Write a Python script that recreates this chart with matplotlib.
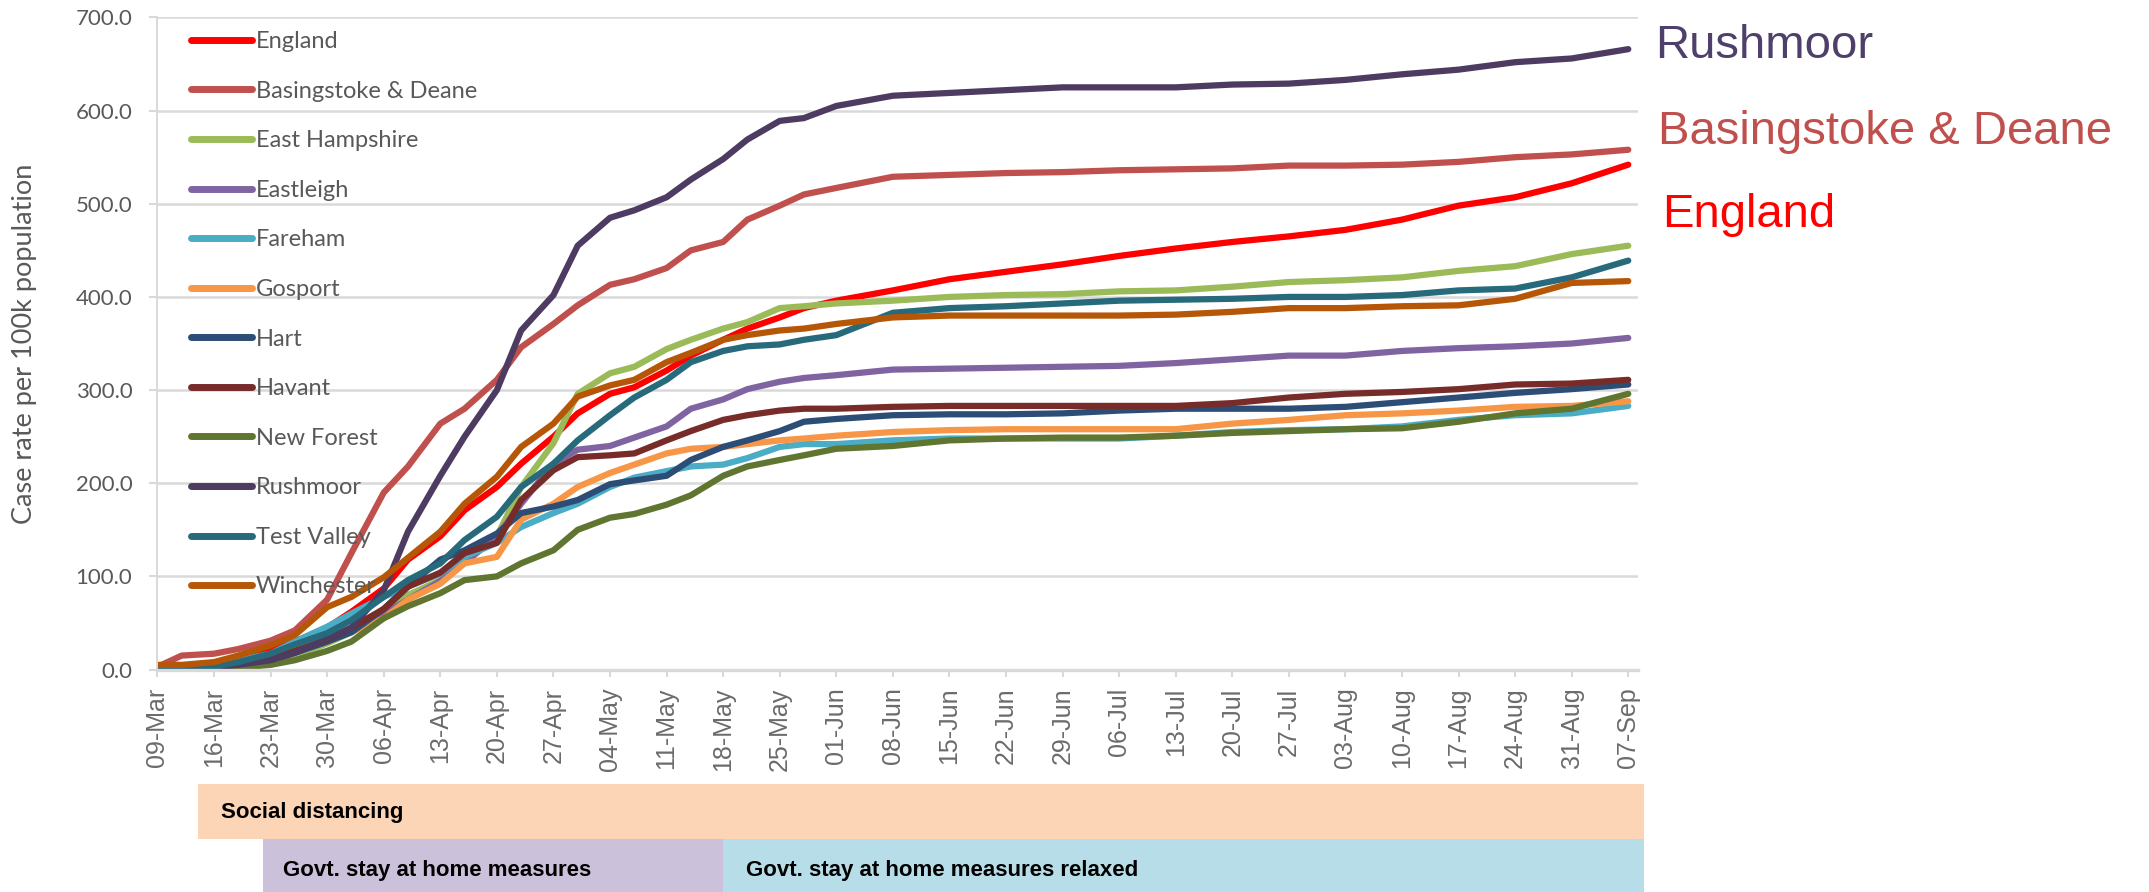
import numpy as np
import matplotlib
matplotlib.use("Agg")
import matplotlib.pyplot as plt
import matplotlib.transforms as mtransforms
from matplotlib.patches import Rectangle

# ---------------- data ----------------
dates = np.array([
    "2020-03-09", "2020-03-12", "2020-03-16", "2020-03-19", "2020-03-23", "2020-03-26",
    "2020-03-30", "2020-04-02", "2020-04-06", "2020-04-09", "2020-04-13", "2020-04-16",
    "2020-04-20", "2020-04-23", "2020-04-27", "2020-04-30", "2020-05-04", "2020-05-07",
    "2020-05-11", "2020-05-14", "2020-05-18", "2020-05-21", "2020-05-25", "2020-05-28",
    "2020-06-01", "2020-06-08", "2020-06-15", "2020-06-22", "2020-06-29", "2020-07-06",
    "2020-07-13", "2020-07-20", "2020-07-27", "2020-08-03", "2020-08-10", "2020-08-17",
    "2020-08-24", "2020-08-31", "2020-09-07",
], dtype="datetime64[D]")

england = [2, 4, 6, 12, 20, 30, 45, 62, 87, 118, 143, 171, 196, 221, 250, 275, 296, 303,
           321, 337, 354, 366, 378, 388, 396, 407, 419, 427, 435, 444, 452, 459, 465, 472,
           483, 498, 507, 522, 542]
basingstoke = [3, 15, 17, 22, 31, 42, 75, 125, 190, 218, 264, 280, 311, 346, 371, 391, 413,
               419, 431, 450, 459, 483, 498, 510, 517, 529, 531, 533, 534, 536, 537, 538,
               541, 541, 542, 545, 550, 553, 558]
east_hampshire = [0, 1, 2, 4, 8, 15, 28, 40, 65, 80, 96, 114, 143, 196, 243, 296, 318, 325,
                  344, 354, 366, 373, 388, 390, 393, 396, 400, 402, 403, 406, 407, 411, 416,
                  418, 421, 428, 433, 446, 455]
eastleigh = [0, 1, 2, 5, 10, 18, 30, 42, 60, 75, 95, 115, 143, 178, 221, 236, 240, 249, 261,
             280, 290, 301, 309, 313, 316, 322, 323, 324, 325, 326, 329, 333, 337, 337, 342,
             345, 347, 350, 356]
fareham = [0, 2, 5, 10, 17, 30, 46, 60, 78, 89, 103, 121, 136, 153, 168, 178, 196, 206, 213,
           218, 220, 227, 239, 242, 242, 246, 248, 248, 248, 248, 251, 255, 257, 258, 261,
           268, 273, 275, 283]
gosport = [0, 2, 4, 8, 14, 22, 32, 40, 55, 75, 92, 114, 121, 161, 178, 196, 211, 220, 232,
           237, 239, 242, 246, 248, 251, 255, 257, 258, 258, 258, 258, 264, 268, 273, 275,
           278, 282, 283, 288]
hart = [0, 1, 2, 5, 10, 18, 30, 40, 65, 89, 118, 128, 146, 168, 175, 182, 199, 203, 208,
        225, 239, 246, 256, 266, 269, 273, 274, 274, 275, 278, 280, 280, 280, 282, 287, 292,
        297, 301, 306]
havant = [0, 1, 3, 6, 12, 20, 32, 45, 65, 89, 104, 125, 136, 182, 214, 228, 230, 232, 246,
          256, 268, 273, 278, 280, 280, 282, 283, 283, 283, 283, 283, 286, 292, 296, 298,
          301, 306, 307, 311]
new_forest = [0, 0, 0, 2, 5, 10, 20, 30, 55, 68, 82, 96, 100, 114, 128, 150, 163, 167, 177,
              187, 208, 218, 225, 230, 237, 240, 246, 248, 249, 249, 251, 254, 256, 258, 259,
              266, 275, 280, 296]
rushmoor = [0, 0, 2, 5, 10, 18, 33, 45, 85, 148, 208, 250, 300, 364, 402, 455, 485, 493,
            507, 526, 548, 569, 589, 592, 605, 616, 619, 622, 625, 625, 625, 628, 629, 633,
            639, 644, 652, 656, 666]
test_valley = [0, 1, 3, 8, 17, 27, 39, 53, 78, 96, 114, 139, 164, 196, 221, 246, 273, 292,
               311, 330, 342, 347, 349, 354, 359, 383, 388, 390, 393, 396, 397, 398, 400,
               400, 402, 407, 409, 421, 439]
winchester = [5, 5, 8, 15, 26, 37, 67, 78, 99, 120, 148, 178, 207, 239, 264, 293, 305, 311,
              330, 340, 354, 359, 364, 366, 371, 378, 380, 380, 380, 380, 381, 384, 388, 388,
              390, 391, 398, 415, 417]

names = ["England", "Basingstoke & Deane", "East Hampshire", "Eastleigh", "Fareham",
         "Gosport", "Hart", "Havant", "New Forest", "Rushmoor", "Test Valley", "Winchester"]
colors = ["#FF0000", "#C0504D", "#9BBB59", "#8064A2", "#4BACC6", "#F79646",
          "#2C4D75", "#772C2A", "#5F7530", "#4D3B62", "#276A7C", "#B65708"]
series = [england, basingstoke, east_hampshire, eastleigh, fareham, gosport,
          hart, havant, new_forest, rushmoor, test_valley, winchester]

tick_labels = ["09-Mar", "16-Mar", "23-Mar", "30-Mar", "06-Apr", "13-Apr", "20-Apr",
               "27-Apr", "04-May", "11-May", "18-May", "25-May", "01-Jun", "08-Jun",
               "15-Jun", "22-Jun", "29-Jun", "06-Jul", "13-Jul", "20-Jul", "27-Jul",
               "03-Aug", "10-Aug", "17-Aug", "24-Aug", "31-Aug", "07-Sep"]

# measure periods shown as bands under the axis
phase_labels = ["Social distancing", "Govt. stay at home measures",
                "Govt. stay at home measures relaxed"]
phase_start = np.array(["2020-03-14", "2020-03-22", "2020-05-18"], dtype="datetime64[D]")
phase_end = np.array(["2020-09-09", "2020-05-18", "2020-09-09"], dtype="datetime64[D]")
phase_colors = ["#FBD5B5", "#CCC1DA", "#B7DEE8"]

# ---------------- figure ----------------
GRID = "#D9D9D9"
TXT = "#595959"

fig = plt.figure(figsize=(21.49, 8.92), dpi=100)
ax = fig.add_axes([0.0729, 0.2494, 0.6893, 0.7310])

x = dates.astype(float)  # days since epoch
for vals, name, col in zip(series, names, colors):
    ax.plot(x, vals, color=col, lw=4.5, label=name,
            solid_joinstyle="round", solid_capstyle="round")

tick_pos = np.arange(np.datetime64("2020-03-09"), np.datetime64("2020-09-08"), 7).astype(float)
ax.set_xticks(tick_pos)
ax.set_xticklabels(tick_labels, rotation=90, fontsize=18, color="#6B6B6B",
                   family="Liberation Sans")
ax.set_xlim(tick_pos[0] - 0.1, tick_pos[-1] + 1.2)

ax.set_ylim(0, 700)
ax.set_yticks(np.arange(0, 701, 100))
ax.set_yticklabels([f"{v:.1f}" for v in range(0, 701, 100)], fontsize=16, color=TXT,
                   family="Lato")
ax.grid(axis="y", color=GRID, lw=1.8)
ax.set_axisbelow(True)

ax.tick_params(axis="x", length=5, width=1.5, color=GRID, pad=8)
ax.tick_params(axis="y", length=5.5, width=1.5, color=GRID, pad=12)
for s in ["top", "right"]:
    ax.spines[s].set_visible(False)
ax.spines["left"].set_color(GRID)
ax.spines["left"].set_linewidth(1.4)
ax.spines["bottom"].set_color(GRID)
ax.spines["bottom"].set_linewidth(2.4)

ax.set_ylabel("Case rate per 100k population", fontsize=19.5, color=TXT, family="Lato",
              va="center")
ax.yaxis.set_label_coords(-0.089, 0.5)

leg = ax.legend(loc="upper left", bbox_to_anchor=(0.023, 0.979), frameon=False,
                prop={"family": "Lato", "size": 17}, handlelength=2.6,
                handletextpad=0.15, labelspacing=1.21, borderpad=0, borderaxespad=0)
for t in leg.get_texts():
    t.set_color(TXT)
for h in leg.get_lines():
    h.set_linewidth(5.0)

# right-hand highlight labels
fig.text(0.7701, 1 - 58 / 892, "Rushmoor", color="#4F3F6B", fontsize=34,
         family="Liberation Sans", va="baseline")
fig.text(0.7715, 1 - 144 / 892, "Basingstoke & Deane", color="#C0504D", fontsize=34,
         family="Liberation Sans", va="baseline")
fig.text(0.7734, 1 - 227 / 892, "England", color="#FF0000", fontsize=34,
         family="Liberation Sans", va="baseline")

# bands below the axis: x in data coordinates, y in figure coordinates
trans = mtransforms.blended_transform_factory(ax.transData, fig.transFigure)
band_y = [(1 - 839 / 892, 55 / 892), (0.0, 1 - 839 / 892), (0.0, 1 - 839 / 892)]
text_y = [1 - 818 / 892, 1 - 876 / 892, 1 - 876 / 892]
text_dx = [23.5, 20.5, 23.0]
for lab, s0, s1, col, (y0, h), ty, dx in zip(phase_labels, phase_start, phase_end,
                                             phase_colors, band_y, text_y, text_dx):
    x0 = s0.astype(float)
    x1 = s1.astype(float)
    fig.add_artist(Rectangle((x0, y0), x1 - x0, h, transform=trans, facecolor=col,
                             edgecolor="none", clip_on=False, zorder=0))
    x0_px = ax.transData.transform((x0, 0))[0]
    fig.text((x0_px + dx) / fig.bbox.width, ty, lab, fontsize=16, fontweight="bold",
             family="Liberation Sans", va="baseline", color="black")

fig.savefig("out.png", dpi=100)
